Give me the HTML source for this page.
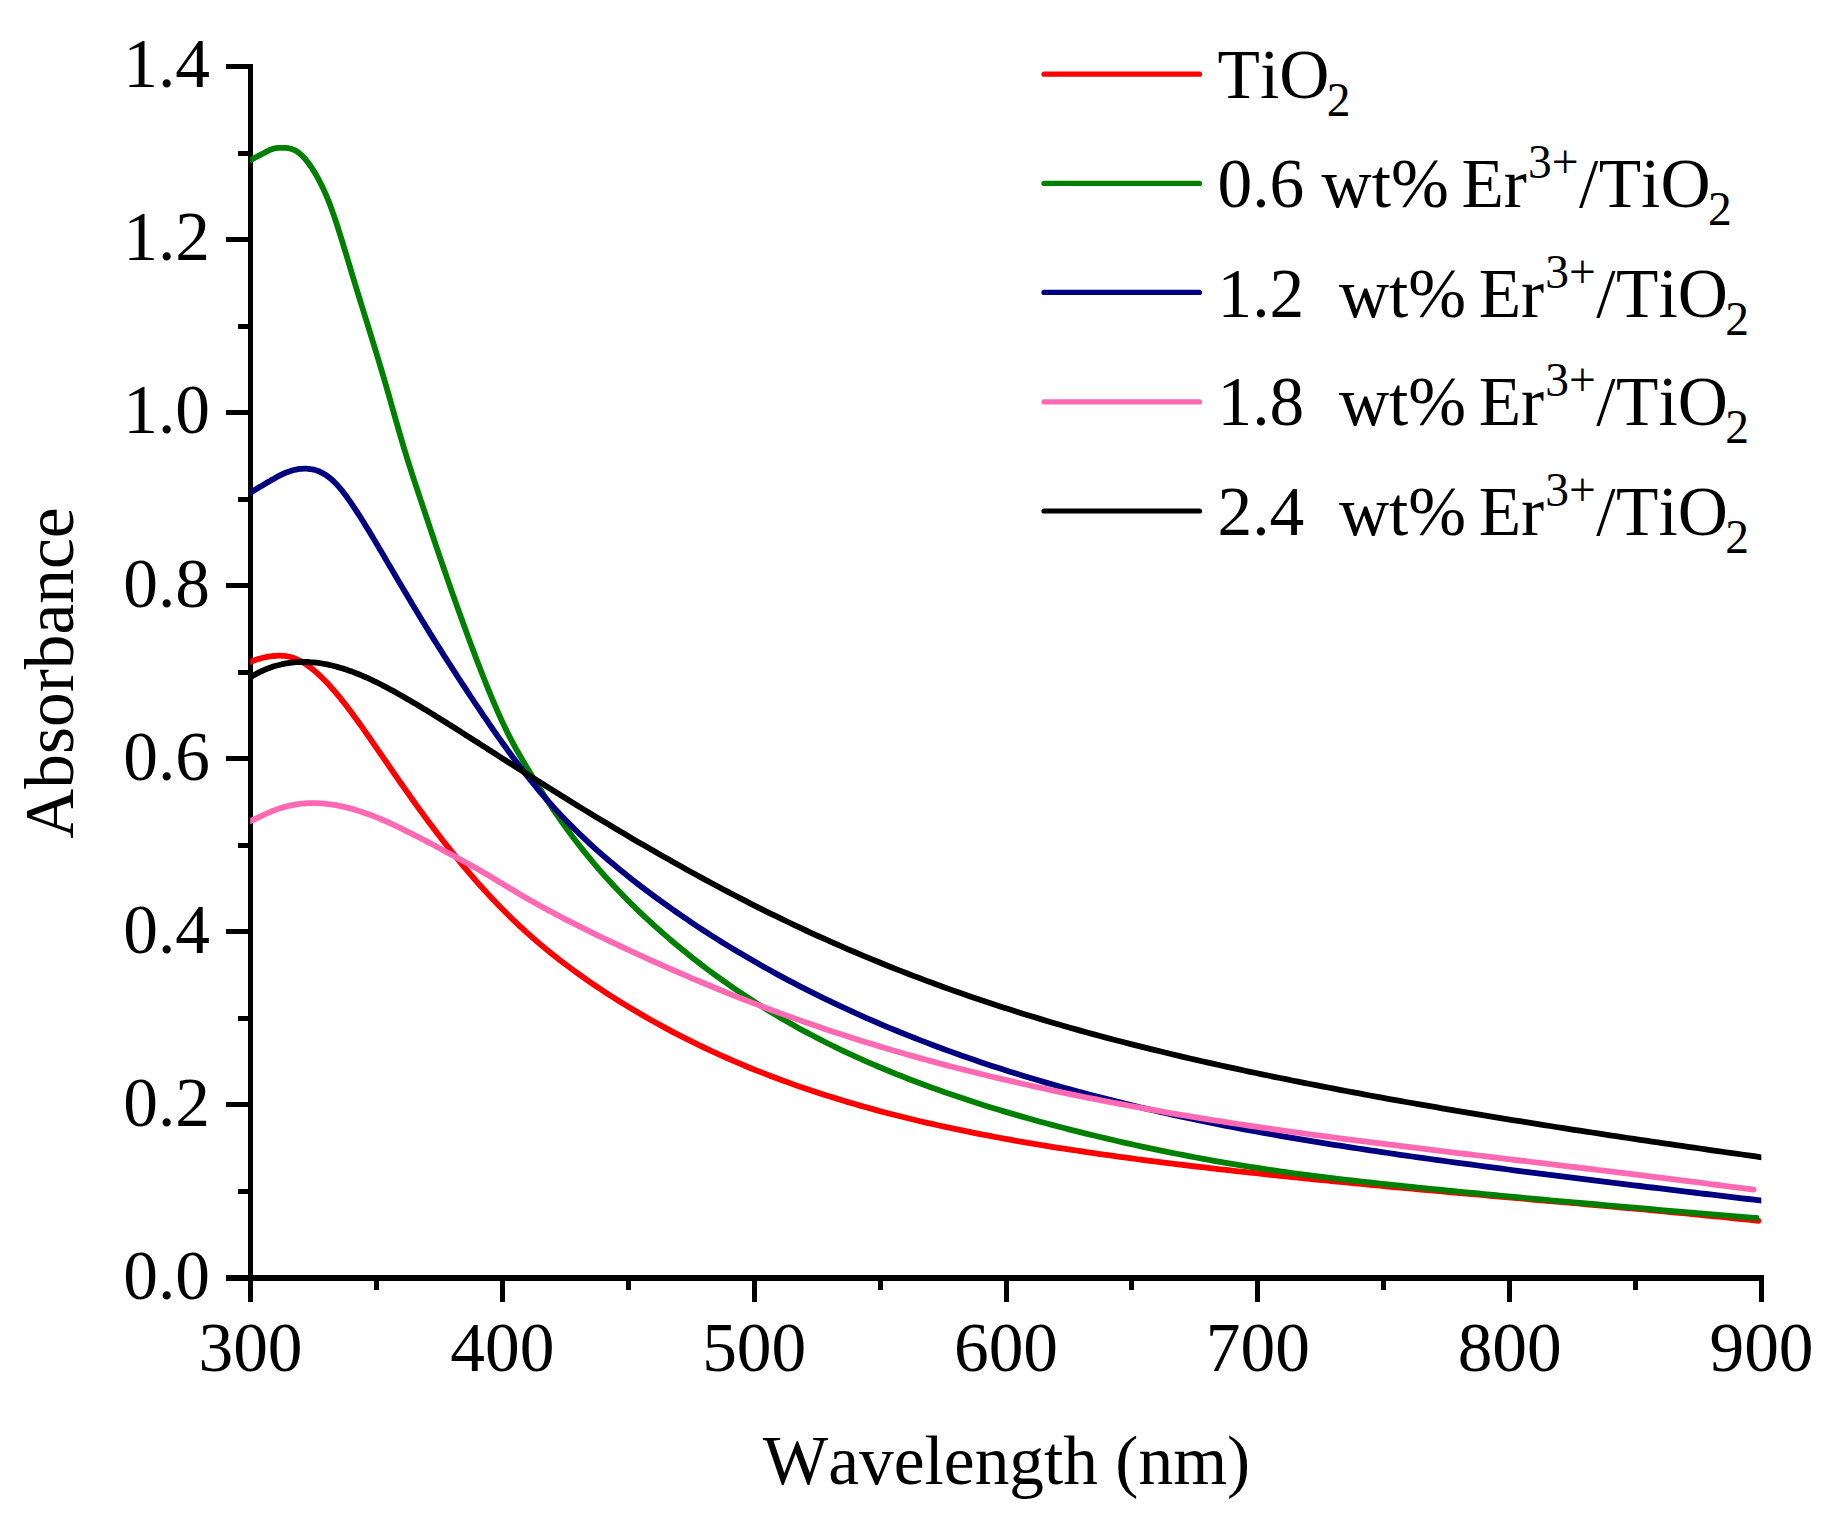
<!DOCTYPE html>
<html lang="en"><head><meta charset="utf-8"><title>Absorbance spectra</title>
<style>
html,body{margin:0;padding:0;background:#fff;}
body{width:1829px;height:1519px;overflow:hidden;}
svg{display:block;}
text{font-family:"Liberation Serif",serif;font-size:69.4px;fill:#000;font-kerning:none;}
.c{fill:none;stroke-width:5.8;stroke-linejoin:round;stroke-linecap:round;}
.ax{stroke:#000;stroke-width:5.0;fill:none;stroke-linecap:butt;shape-rendering:crispEdges;}
</style></head><body>
<svg width="1829" height="1519" viewBox="0 0 1829 1519">
<rect width="1829" height="1519" fill="#fff"/>
<line class="ax" style="stroke-width:6" x1="226.0" y1="1278.0" x2="1764.0" y2="1278.0"/>
<line class="ax" x1="250.5" y1="64.0" x2="250.5" y2="1301.8"/>
<text x="210.0" y="1298.8" text-anchor="end">0.0</text>
<line class="ax" x1="238.0" y1="1191.5" x2="250.5" y2="1191.5"/>
<line class="ax" x1="226.0" y1="1104.9" x2="250.5" y2="1104.9"/>
<text x="210.0" y="1125.7" text-anchor="end">0.2</text>
<line class="ax" x1="238.0" y1="1018.4" x2="250.5" y2="1018.4"/>
<line class="ax" x1="226.0" y1="931.9" x2="250.5" y2="931.9"/>
<text x="210.0" y="952.7" text-anchor="end">0.4</text>
<line class="ax" x1="238.0" y1="845.3" x2="250.5" y2="845.3"/>
<line class="ax" x1="226.0" y1="758.8" x2="250.5" y2="758.8"/>
<text x="210.0" y="779.6" text-anchor="end">0.6</text>
<line class="ax" x1="238.0" y1="672.2" x2="250.5" y2="672.2"/>
<line class="ax" x1="226.0" y1="585.7" x2="250.5" y2="585.7"/>
<text x="210.0" y="606.5" text-anchor="end">0.8</text>
<line class="ax" x1="238.0" y1="499.2" x2="250.5" y2="499.2"/>
<line class="ax" x1="226.0" y1="412.6" x2="250.5" y2="412.6"/>
<text x="210.0" y="433.4" text-anchor="end">1.0</text>
<line class="ax" x1="238.0" y1="326.1" x2="250.5" y2="326.1"/>
<line class="ax" x1="226.0" y1="239.6" x2="250.5" y2="239.6"/>
<text x="210.0" y="260.4" text-anchor="end">1.2</text>
<line class="ax" x1="238.0" y1="153.0" x2="250.5" y2="153.0"/>
<line class="ax" x1="226.0" y1="66.5" x2="250.5" y2="66.5"/>
<text x="210.0" y="87.3" text-anchor="end">1.4</text>
<text x="250.5" y="1371.4" text-anchor="middle">300</text>
<line class="ax" x1="376.4" y1="1278.0" x2="376.4" y2="1289.6"/>
<line class="ax" x1="502.3" y1="1278.0" x2="502.3" y2="1301.8"/>
<text x="502.3" y="1371.4" text-anchor="middle">400</text>
<line class="ax" x1="628.2" y1="1278.0" x2="628.2" y2="1289.6"/>
<line class="ax" x1="754.2" y1="1278.0" x2="754.2" y2="1301.8"/>
<text x="754.2" y="1371.4" text-anchor="middle">500</text>
<line class="ax" x1="880.1" y1="1278.0" x2="880.1" y2="1289.6"/>
<line class="ax" x1="1006.0" y1="1278.0" x2="1006.0" y2="1301.8"/>
<text x="1006.0" y="1371.4" text-anchor="middle">600</text>
<line class="ax" x1="1131.9" y1="1278.0" x2="1131.9" y2="1289.6"/>
<line class="ax" x1="1257.8" y1="1278.0" x2="1257.8" y2="1301.8"/>
<text x="1257.8" y="1371.4" text-anchor="middle">700</text>
<line class="ax" x1="1383.7" y1="1278.0" x2="1383.7" y2="1289.6"/>
<line class="ax" x1="1509.7" y1="1278.0" x2="1509.7" y2="1301.8"/>
<text x="1509.7" y="1371.4" text-anchor="middle">800</text>
<line class="ax" x1="1635.6" y1="1278.0" x2="1635.6" y2="1289.6"/>
<line class="ax" x1="1761.5" y1="1278.0" x2="1761.5" y2="1301.8"/>
<text x="1761.5" y="1371.4" text-anchor="middle">900</text>
<defs><clipPath id="pc"><rect x="250.2" y="0" width="1511.1" height="1519"/></clipPath></defs>
<path class="c" clip-path="url(#pc)" stroke="#ff0000" d="M246.0,663.7 L248.0,662.9 L250.0,662.0 L252.0,661.2 L254.0,660.5 L256.0,659.8 L258.0,659.1 L260.0,658.5 L262.0,658.0 L264.0,657.5 L266.0,657.1 L268.0,656.7 L270.0,656.4 L272.0,656.2 L274.0,656.0 L276.0,655.8 L278.0,655.7 L280.0,655.7 L282.0,655.8 L284.0,655.9 L286.0,656.2 L288.0,656.5 L290.0,656.9 L292.0,657.5 L294.0,658.1 L296.0,658.9 L298.0,659.8 L300.0,660.8 L302.0,661.9 L304.0,663.1 L306.0,664.4 L308.0,665.7 L310.0,667.2 L312.0,668.8 L314.0,670.4 L316.0,672.1 L318.0,673.9 L320.0,675.8 L322.0,677.7 L324.0,679.7 L326.0,681.7 L328.0,683.8 L330.0,686.0 L332.0,688.3 L334.0,690.5 L336.0,692.9 L338.0,695.3 L340.0,697.7 L342.0,700.2 L344.0,702.7 L346.0,705.3 L348.0,707.9 L350.0,710.6 L352.0,713.2 L354.0,716.0 L356.0,718.7 L358.0,721.5 L360.0,724.3 L362.0,727.1 L364.0,729.9 L366.0,732.8 L368.0,735.6 L370.0,738.5 L372.0,741.4 L374.0,744.3 L376.0,747.2 L378.0,750.1 L380.0,753.0 L382.0,755.9 L384.0,758.8 L386.0,761.7 L388.0,764.6 L390.0,767.5 L392.0,770.4 L394.0,773.3 L396.0,776.2 L398.0,779.1 L400.0,782.0 L402.0,784.8 L404.0,787.7 L406.0,790.5 L408.0,793.3 L410.0,796.2 L412.0,799.0 L414.0,801.8 L416.0,804.6 L418.0,807.3 L420.0,810.1 L422.0,812.8 L424.0,815.6 L426.0,818.3 L428.0,821.0 L430.0,823.7 L432.0,826.3 L434.0,829.0 L436.0,831.6 L438.0,834.2 L440.0,836.8 L442.0,839.4 L444.0,842.0 L446.0,844.6 L448.0,847.1 L450.0,849.6 L452.0,852.1 L454.0,854.6 L456.0,857.1 L458.0,859.5 L460.0,862.0 L462.0,864.4 L464.0,866.8 L466.0,869.2 L468.0,871.5 L470.0,873.9 L472.0,876.2 L474.0,878.5 L476.0,880.8 L478.0,883.1 L480.0,885.3 L482.0,887.5 L484.0,889.7 L486.0,891.9 L488.0,894.1 L490.0,896.3 L492.0,898.4 L494.0,900.5 L496.0,902.6 L498.0,904.7 L500.0,906.8 L502.0,908.8 L504.0,910.8 L506.0,912.8 L508.0,914.8 L510.0,916.8 L512.0,918.7 L514.0,920.7 L516.0,922.6 L518.0,924.5 L520.0,926.3 L522.0,928.2 L524.0,930.0 L526.0,931.8 L528.0,933.6 L530.0,935.4 L532.0,937.2 L534.0,938.9 L536.0,940.7 L538.0,942.4 L540.0,944.1 L542.0,945.7 L544.0,947.4 L546.0,949.1 L548.0,950.7 L550.0,952.3 L552.0,953.9 L554.0,955.5 L556.0,957.1 L558.0,958.7 L560.0,960.2 L566.0,964.8 L572.0,969.3 L578.0,973.6 L584.0,977.9 L590.0,982.1 L596.0,986.2 L602.0,990.2 L608.0,994.1 L614.0,997.9 L620.0,1001.7 L626.0,1005.4 L632.0,1009.0 L638.0,1012.6 L644.0,1016.1 L650.0,1019.5 L656.0,1022.8 L662.0,1026.1 L668.0,1029.4 L674.0,1032.6 L680.0,1035.7 L686.0,1038.7 L692.0,1041.7 L698.0,1044.7 L704.0,1047.5 L710.0,1050.4 L716.0,1053.1 L722.0,1055.9 L728.0,1058.5 L734.0,1061.1 L740.0,1063.7 L746.0,1066.2 L752.0,1068.7 L758.0,1071.1 L764.0,1073.4 L770.0,1075.7 L776.0,1078.0 L782.0,1080.2 L788.0,1082.4 L794.0,1084.6 L800.0,1086.7 L806.0,1088.7 L812.0,1090.7 L818.0,1092.7 L824.0,1094.7 L830.0,1096.6 L836.0,1098.4 L842.0,1100.3 L848.0,1102.1 L854.0,1103.8 L860.0,1105.6 L866.0,1107.3 L872.0,1108.9 L878.0,1110.6 L884.0,1112.2 L890.0,1113.7 L896.0,1115.3 L902.0,1116.8 L908.0,1118.3 L914.0,1119.7 L920.0,1121.2 L926.0,1122.6 L932.0,1123.9 L938.0,1125.3 L944.0,1126.6 L950.0,1127.9 L956.0,1129.2 L962.0,1130.4 L968.0,1131.7 L974.0,1132.9 L980.0,1134.1 L986.0,1135.2 L992.0,1136.4 L998.0,1137.5 L1004.0,1138.6 L1010.0,1139.7 L1016.0,1140.8 L1022.0,1141.8 L1028.0,1142.8 L1034.0,1143.8 L1040.0,1144.8 L1046.0,1145.8 L1052.0,1146.8 L1058.0,1147.8 L1064.0,1148.7 L1070.0,1149.6 L1076.0,1150.5 L1082.0,1151.4 L1088.0,1152.3 L1094.0,1153.2 L1100.0,1154.1 L1106.0,1154.9 L1112.0,1155.7 L1118.0,1156.6 L1124.0,1157.4 L1130.0,1158.2 L1136.0,1159.0 L1142.0,1159.8 L1148.0,1160.6 L1154.0,1161.3 L1160.0,1162.1 L1166.0,1162.8 L1172.0,1163.6 L1178.0,1164.3 L1184.0,1165.0 L1190.0,1165.8 L1196.0,1166.5 L1202.0,1167.2 L1208.0,1167.9 L1214.0,1168.6 L1220.0,1169.3 L1226.0,1169.9 L1232.0,1170.6 L1238.0,1171.3 L1244.0,1171.9 L1250.0,1172.6 L1256.0,1173.2 L1262.0,1173.9 L1268.0,1174.5 L1274.0,1175.2 L1280.0,1175.8 L1286.0,1176.4 L1292.0,1177.0 L1298.0,1177.7 L1304.0,1178.3 L1310.0,1178.9 L1316.0,1179.5 L1322.0,1180.1 L1328.0,1180.7 L1334.0,1181.3 L1340.0,1181.9 L1346.0,1182.4 L1352.0,1183.0 L1358.0,1183.6 L1364.0,1184.2 L1370.0,1184.8 L1376.0,1185.3 L1382.0,1185.9 L1388.0,1186.5 L1394.0,1187.0 L1400.0,1187.6 L1406.0,1188.1 L1412.0,1188.7 L1418.0,1189.3 L1424.0,1189.8 L1430.0,1190.4 L1436.0,1190.9 L1442.0,1191.4 L1448.0,1192.0 L1454.0,1192.5 L1460.0,1193.1 L1466.0,1193.6 L1472.0,1194.1 L1478.0,1194.7 L1484.0,1195.2 L1490.0,1195.8 L1496.0,1196.3 L1502.0,1196.8 L1508.0,1197.3 L1514.0,1197.9 L1520.0,1198.4 L1526.0,1198.9 L1532.0,1199.5 L1538.0,1200.0 L1544.0,1200.5 L1550.0,1201.1 L1556.0,1201.6 L1562.0,1202.1 L1568.0,1202.7 L1574.0,1203.2 L1580.0,1203.7 L1586.0,1204.3 L1592.0,1204.8 L1598.0,1205.3 L1604.0,1205.9 L1610.0,1206.4 L1616.0,1207.0 L1622.0,1207.5 L1628.0,1208.1 L1634.0,1208.6 L1640.0,1209.2 L1646.0,1209.7 L1652.0,1210.3 L1658.0,1210.9 L1664.0,1211.4 L1670.0,1212.0 L1676.0,1212.6 L1682.0,1213.1 L1688.0,1213.7 L1694.0,1214.3 L1700.0,1214.9 L1706.0,1215.5 L1712.0,1216.1 L1718.0,1216.6 L1724.0,1217.2 L1730.0,1217.8 L1736.0,1218.5 L1742.0,1219.1 L1748.0,1219.7 L1754.0,1220.3 L1758.5,1220.8"/>
<path class="c" clip-path="url(#pc)" stroke="#008000" d="M246.0,162.7 L248.0,161.6 L250.0,160.5 L252.0,159.4 L254.0,158.3 L256.0,157.2 L258.0,156.1 L260.0,155.1 L262.0,154.0 L264.0,153.0 L266.0,151.9 L268.0,150.9 L270.0,149.9 L272.0,149.1 L274.0,148.5 L276.0,148.1 L278.0,147.9 L280.0,147.8 L282.0,147.8 L284.0,147.8 L286.0,147.9 L288.0,148.2 L290.0,148.5 L292.0,149.1 L294.0,149.9 L296.0,150.9 L298.0,152.2 L300.0,153.8 L302.0,155.6 L304.0,157.7 L306.0,160.0 L308.0,162.5 L310.0,165.3 L312.0,168.2 L314.0,171.4 L316.0,174.7 L318.0,178.3 L320.0,182.1 L322.0,186.1 L324.0,190.3 L326.0,194.9 L328.0,199.7 L330.0,204.8 L332.0,210.2 L334.0,215.9 L336.0,221.8 L338.0,228.0 L340.0,234.3 L342.0,240.7 L344.0,247.3 L346.0,253.9 L348.0,260.5 L350.0,267.2 L352.0,273.9 L354.0,280.5 L356.0,287.1 L358.0,293.6 L360.0,300.1 L362.0,306.5 L364.0,313.0 L366.0,319.4 L368.0,325.9 L370.0,332.3 L372.0,338.8 L374.0,345.3 L376.0,351.9 L378.0,358.5 L380.0,365.1 L382.0,371.8 L384.0,378.6 L386.0,385.5 L388.0,392.4 L390.0,399.4 L392.0,406.5 L394.0,413.6 L396.0,420.6 L398.0,427.6 L400.0,434.6 L402.0,441.4 L404.0,448.1 L406.0,454.7 L408.0,461.1 L410.0,467.4 L412.0,473.6 L414.0,479.8 L416.0,485.8 L418.0,491.9 L420.0,497.9 L422.0,503.9 L424.0,509.9 L426.0,515.9 L428.0,521.8 L430.0,527.8 L432.0,533.7 L434.0,539.7 L436.0,545.6 L438.0,551.5 L440.0,557.4 L442.0,563.2 L444.0,569.0 L446.0,574.8 L448.0,580.6 L450.0,586.4 L452.0,592.1 L454.0,597.7 L456.0,603.4 L458.0,609.0 L460.0,614.6 L462.0,620.1 L464.0,625.6 L466.0,631.1 L468.0,636.6 L470.0,641.9 L472.0,647.3 L474.0,652.6 L476.0,657.9 L478.0,663.1 L480.0,668.3 L482.0,673.5 L484.0,678.5 L486.0,683.6 L488.0,688.6 L490.0,693.4 L492.0,698.3 L494.0,703.0 L496.0,707.7 L498.0,712.3 L500.0,716.7 L502.0,721.1 L504.0,725.4 L506.0,729.6 L508.0,733.6 L510.0,737.6 L512.0,741.4 L514.0,745.2 L516.0,748.8 L518.0,752.3 L520.0,755.8 L522.0,759.2 L524.0,762.6 L526.0,766.0 L528.0,769.3 L530.0,772.6 L532.0,775.9 L534.0,779.2 L536.0,782.4 L538.0,785.7 L540.0,788.9 L542.0,792.1 L544.0,795.2 L546.0,798.4 L548.0,801.5 L550.0,804.5 L552.0,807.6 L554.0,810.6 L556.0,813.5 L558.0,816.4 L560.0,819.3 L566.0,827.7 L572.0,835.9 L578.0,843.7 L584.0,851.4 L590.0,858.7 L596.0,865.8 L602.0,872.8 L608.0,879.5 L614.0,886.0 L620.0,892.3 L626.0,898.5 L632.0,904.5 L638.0,910.4 L644.0,916.1 L650.0,921.6 L656.0,927.1 L662.0,932.4 L668.0,937.6 L674.0,942.7 L680.0,947.7 L686.0,952.6 L692.0,957.4 L698.0,962.1 L704.0,966.7 L710.0,971.2 L716.0,975.6 L722.0,979.9 L728.0,984.2 L734.0,988.3 L740.0,992.4 L746.0,996.4 L752.0,1000.3 L758.0,1004.1 L764.0,1007.9 L770.0,1011.5 L776.0,1015.1 L782.0,1018.7 L788.0,1022.1 L794.0,1025.5 L800.0,1028.9 L806.0,1032.1 L812.0,1035.3 L818.0,1038.4 L824.0,1041.5 L830.0,1044.5 L836.0,1047.4 L842.0,1050.3 L848.0,1053.2 L854.0,1055.9 L860.0,1058.7 L866.0,1061.3 L872.0,1063.9 L878.0,1066.5 L884.0,1069.0 L890.0,1071.5 L896.0,1074.0 L902.0,1076.3 L908.0,1078.7 L914.0,1081.0 L920.0,1083.3 L926.0,1085.5 L932.0,1087.7 L938.0,1089.8 L944.0,1092.0 L950.0,1094.0 L956.0,1096.1 L962.0,1098.1 L968.0,1100.1 L974.0,1102.0 L980.0,1104.0 L986.0,1105.9 L992.0,1107.7 L998.0,1109.6 L1004.0,1111.4 L1010.0,1113.1 L1016.0,1114.9 L1022.0,1116.6 L1028.0,1118.3 L1034.0,1120.0 L1040.0,1121.7 L1046.0,1123.3 L1052.0,1124.9 L1058.0,1126.5 L1064.0,1128.0 L1070.0,1129.6 L1076.0,1131.1 L1082.0,1132.6 L1088.0,1134.1 L1094.0,1135.5 L1100.0,1137.0 L1106.0,1138.4 L1112.0,1139.8 L1118.0,1141.2 L1124.0,1142.6 L1130.0,1143.9 L1136.0,1145.3 L1142.0,1146.6 L1148.0,1147.9 L1154.0,1149.1 L1160.0,1150.4 L1166.0,1151.6 L1172.0,1152.8 L1178.0,1154.0 L1184.0,1155.2 L1190.0,1156.4 L1196.0,1157.5 L1202.0,1158.6 L1208.0,1159.7 L1214.0,1160.8 L1220.0,1161.8 L1226.0,1162.9 L1232.0,1163.9 L1238.0,1164.9 L1244.0,1165.9 L1250.0,1166.8 L1256.0,1167.7 L1262.0,1168.7 L1268.0,1169.6 L1274.0,1170.4 L1280.0,1171.3 L1286.0,1172.1 L1292.0,1173.0 L1298.0,1173.8 L1304.0,1174.6 L1310.0,1175.3 L1316.0,1176.1 L1322.0,1176.9 L1328.0,1177.6 L1334.0,1178.3 L1340.0,1179.1 L1346.0,1179.8 L1352.0,1180.5 L1358.0,1181.1 L1364.0,1181.8 L1370.0,1182.5 L1376.0,1183.2 L1382.0,1183.8 L1388.0,1184.5 L1394.0,1185.1 L1400.0,1185.7 L1406.0,1186.4 L1412.0,1187.0 L1418.0,1187.6 L1424.0,1188.2 L1430.0,1188.8 L1436.0,1189.4 L1442.0,1190.0 L1448.0,1190.6 L1454.0,1191.2 L1460.0,1191.8 L1466.0,1192.4 L1472.0,1192.9 L1478.0,1193.5 L1484.0,1194.1 L1490.0,1194.7 L1496.0,1195.2 L1502.0,1195.8 L1508.0,1196.4 L1514.0,1196.9 L1520.0,1197.5 L1526.0,1198.1 L1532.0,1198.6 L1538.0,1199.2 L1544.0,1199.7 L1550.0,1200.3 L1556.0,1200.8 L1562.0,1201.3 L1568.0,1201.9 L1574.0,1202.4 L1580.0,1203.0 L1586.0,1203.5 L1592.0,1204.0 L1598.0,1204.5 L1604.0,1205.1 L1610.0,1205.6 L1616.0,1206.1 L1622.0,1206.6 L1628.0,1207.2 L1634.0,1207.7 L1640.0,1208.2 L1646.0,1208.7 L1652.0,1209.2 L1658.0,1209.8 L1664.0,1210.3 L1670.0,1210.8 L1676.0,1211.3 L1682.0,1211.8 L1688.0,1212.3 L1694.0,1212.8 L1700.0,1213.3 L1706.0,1213.8 L1712.0,1214.3 L1718.0,1214.8 L1724.0,1215.3 L1730.0,1215.8 L1736.0,1216.3 L1742.0,1216.8 L1748.0,1217.3 L1754.0,1217.8 L1756.5,1218.0"/>
<path class="c" clip-path="url(#pc)" stroke="#000080" d="M246.0,495.5 L248.0,494.2 L250.0,492.9 L252.0,491.7 L254.0,490.4 L256.0,489.2 L258.0,488.0 L260.0,486.8 L262.0,485.7 L264.0,484.5 L266.0,483.3 L268.0,482.1 L270.0,481.0 L272.0,479.8 L274.0,478.7 L276.0,477.5 L278.0,476.4 L280.0,475.4 L282.0,474.4 L284.0,473.5 L286.0,472.6 L288.0,471.9 L290.0,471.2 L292.0,470.5 L294.0,470.0 L296.0,469.6 L298.0,469.2 L300.0,468.9 L302.0,468.8 L304.0,468.7 L306.0,468.7 L308.0,468.8 L310.0,469.0 L312.0,469.3 L314.0,469.7 L316.0,470.3 L318.0,471.0 L320.0,471.8 L322.0,472.8 L324.0,473.9 L326.0,475.1 L328.0,476.6 L330.0,478.1 L332.0,479.8 L334.0,481.7 L336.0,483.7 L338.0,485.9 L340.0,488.2 L342.0,490.6 L344.0,493.2 L346.0,495.8 L348.0,498.6 L350.0,501.4 L352.0,504.3 L354.0,507.3 L356.0,510.3 L358.0,513.4 L360.0,516.5 L362.0,519.7 L364.0,522.9 L366.0,526.2 L368.0,529.4 L370.0,532.7 L372.0,536.0 L374.0,539.4 L376.0,542.7 L378.0,546.1 L380.0,549.5 L382.0,552.9 L384.0,556.3 L386.0,559.7 L388.0,563.1 L390.0,566.5 L392.0,569.9 L394.0,573.3 L396.0,576.7 L398.0,580.1 L400.0,583.5 L402.0,586.9 L404.0,590.3 L406.0,593.6 L408.0,597.0 L410.0,600.3 L412.0,603.7 L414.0,607.0 L416.0,610.3 L418.0,613.6 L420.0,616.9 L422.0,620.2 L424.0,623.4 L426.0,626.7 L428.0,629.9 L430.0,633.2 L432.0,636.4 L434.0,639.6 L436.0,642.8 L438.0,646.0 L440.0,649.1 L442.0,652.3 L444.0,655.5 L446.0,658.6 L448.0,661.7 L450.0,664.8 L452.0,667.9 L454.0,671.0 L456.0,674.1 L458.0,677.2 L460.0,680.3 L462.0,683.3 L464.0,686.4 L466.0,689.4 L468.0,692.4 L470.0,695.5 L472.0,698.5 L474.0,701.5 L476.0,704.5 L478.0,707.4 L480.0,710.4 L482.0,713.4 L484.0,716.3 L486.0,719.2 L488.0,722.2 L490.0,725.1 L492.0,728.0 L494.0,730.9 L496.0,733.7 L498.0,736.6 L500.0,739.4 L502.0,742.2 L504.0,745.0 L506.0,747.8 L508.0,750.6 L510.0,753.3 L512.0,756.1 L514.0,758.8 L516.0,761.4 L518.0,764.1 L520.0,766.7 L522.0,769.3 L524.0,771.9 L526.0,774.5 L528.0,777.0 L530.0,779.6 L532.0,782.0 L534.0,784.5 L536.0,787.0 L538.0,789.4 L540.0,791.8 L542.0,794.1 L544.0,796.5 L546.0,798.8 L548.0,801.1 L550.0,803.3 L552.0,805.5 L554.0,807.8 L556.0,809.9 L558.0,812.1 L560.0,814.2 L566.0,820.5 L572.0,826.6 L578.0,832.5 L584.0,838.2 L590.0,843.8 L596.0,849.3 L602.0,854.6 L608.0,859.8 L614.0,864.8 L620.0,869.8 L626.0,874.6 L632.0,879.4 L638.0,884.1 L644.0,888.6 L650.0,893.1 L656.0,897.6 L662.0,901.9 L668.0,906.2 L674.0,910.5 L680.0,914.6 L686.0,918.7 L692.0,922.8 L698.0,926.8 L704.0,930.7 L710.0,934.6 L716.0,938.4 L722.0,942.2 L728.0,945.9 L734.0,949.5 L740.0,953.1 L746.0,956.6 L752.0,960.1 L758.0,963.6 L764.0,967.0 L770.0,970.3 L776.0,973.6 L782.0,976.9 L788.0,980.1 L794.0,983.2 L800.0,986.3 L806.0,989.4 L812.0,992.4 L818.0,995.4 L824.0,998.3 L830.0,1001.2 L836.0,1004.1 L842.0,1006.9 L848.0,1009.7 L854.0,1012.4 L860.0,1015.1 L866.0,1017.8 L872.0,1020.4 L878.0,1023.0 L884.0,1025.6 L890.0,1028.1 L896.0,1030.5 L902.0,1033.0 L908.0,1035.4 L914.0,1037.8 L920.0,1040.1 L926.0,1042.4 L932.0,1044.7 L938.0,1047.0 L944.0,1049.2 L950.0,1051.4 L956.0,1053.5 L962.0,1055.7 L968.0,1057.8 L974.0,1059.8 L980.0,1061.9 L986.0,1063.9 L992.0,1065.9 L998.0,1067.8 L1004.0,1069.8 L1010.0,1071.7 L1016.0,1073.5 L1022.0,1075.4 L1028.0,1077.2 L1034.0,1079.0 L1040.0,1080.8 L1046.0,1082.6 L1052.0,1084.3 L1058.0,1086.0 L1064.0,1087.7 L1070.0,1089.4 L1076.0,1091.0 L1082.0,1092.6 L1088.0,1094.2 L1094.0,1095.8 L1100.0,1097.4 L1106.0,1098.9 L1112.0,1100.4 L1118.0,1101.9 L1124.0,1103.4 L1130.0,1104.9 L1136.0,1106.3 L1142.0,1107.7 L1148.0,1109.1 L1154.0,1110.5 L1160.0,1111.9 L1166.0,1113.2 L1172.0,1114.6 L1178.0,1115.9 L1184.0,1117.2 L1190.0,1118.4 L1196.0,1119.7 L1202.0,1121.0 L1208.0,1122.2 L1214.0,1123.4 L1220.0,1124.6 L1226.0,1125.8 L1232.0,1127.0 L1238.0,1128.1 L1244.0,1129.3 L1250.0,1130.4 L1256.0,1131.5 L1262.0,1132.6 L1268.0,1133.7 L1274.0,1134.7 L1280.0,1135.8 L1286.0,1136.8 L1292.0,1137.9 L1298.0,1138.9 L1304.0,1139.9 L1310.0,1140.9 L1316.0,1141.9 L1322.0,1142.9 L1328.0,1143.8 L1334.0,1144.8 L1340.0,1145.7 L1346.0,1146.7 L1352.0,1147.6 L1358.0,1148.5 L1364.0,1149.4 L1370.0,1150.3 L1376.0,1151.2 L1382.0,1152.1 L1388.0,1153.0 L1394.0,1153.9 L1400.0,1154.8 L1406.0,1155.6 L1412.0,1156.5 L1418.0,1157.3 L1424.0,1158.2 L1430.0,1159.0 L1436.0,1159.8 L1442.0,1160.7 L1448.0,1161.5 L1454.0,1162.3 L1460.0,1163.1 L1466.0,1163.9 L1472.0,1164.7 L1478.0,1165.5 L1484.0,1166.3 L1490.0,1167.1 L1496.0,1167.9 L1502.0,1168.7 L1508.0,1169.5 L1514.0,1170.3 L1520.0,1171.1 L1526.0,1171.8 L1532.0,1172.6 L1538.0,1173.4 L1544.0,1174.1 L1550.0,1174.9 L1556.0,1175.6 L1562.0,1176.4 L1568.0,1177.2 L1574.0,1177.9 L1580.0,1178.7 L1586.0,1179.4 L1592.0,1180.1 L1598.0,1180.9 L1604.0,1181.6 L1610.0,1182.4 L1616.0,1183.1 L1622.0,1183.8 L1628.0,1184.6 L1634.0,1185.3 L1640.0,1186.0 L1646.0,1186.8 L1652.0,1187.5 L1658.0,1188.2 L1664.0,1188.9 L1670.0,1189.7 L1676.0,1190.4 L1682.0,1191.1 L1688.0,1191.8 L1694.0,1192.5 L1700.0,1193.3 L1706.0,1194.0 L1712.0,1194.7 L1718.0,1195.4 L1724.0,1196.1 L1730.0,1196.8 L1736.0,1197.6 L1742.0,1198.3 L1748.0,1199.0 L1754.0,1199.7 L1760.0,1200.4 L1764.0,1200.9" style="stroke-linecap:butt"/>
<path class="c" clip-path="url(#pc)" stroke="#ff69b4" d="M246.0,822.8 L248.0,822.1 L250.0,821.3 L252.0,820.4 L254.0,819.5 L256.0,818.5 L258.0,817.6 L260.0,816.6 L262.0,815.6 L264.0,814.7 L266.0,813.8 L268.0,812.9 L270.0,812.1 L272.0,811.2 L274.0,810.4 L276.0,809.7 L278.0,809.0 L280.0,808.3 L282.0,807.7 L284.0,807.1 L286.0,806.5 L288.0,806.0 L290.0,805.6 L292.0,805.1 L294.0,804.8 L296.0,804.4 L298.0,804.1 L300.0,803.9 L302.0,803.6 L304.0,803.5 L306.0,803.3 L308.0,803.2 L310.0,803.1 L312.0,803.1 L314.0,803.1 L316.0,803.1 L318.0,803.2 L320.0,803.3 L322.0,803.4 L324.0,803.6 L326.0,803.8 L328.0,804.0 L330.0,804.3 L332.0,804.6 L334.0,804.9 L336.0,805.2 L338.0,805.6 L340.0,806.0 L342.0,806.4 L344.0,806.9 L346.0,807.4 L348.0,807.9 L350.0,808.4 L352.0,808.9 L354.0,809.5 L356.0,810.1 L358.0,810.7 L360.0,811.3 L362.0,812.0 L364.0,812.7 L366.0,813.4 L368.0,814.1 L370.0,814.8 L372.0,815.6 L374.0,816.3 L376.0,817.1 L378.0,817.9 L380.0,818.8 L382.0,819.6 L384.0,820.5 L386.0,821.3 L388.0,822.2 L390.0,823.1 L392.0,824.0 L394.0,825.0 L396.0,825.9 L398.0,826.9 L400.0,827.8 L402.0,828.8 L404.0,829.8 L406.0,830.8 L408.0,831.8 L410.0,832.8 L412.0,833.8 L414.0,834.8 L416.0,835.8 L418.0,836.9 L420.0,837.9 L422.0,839.0 L424.0,840.0 L426.0,841.1 L428.0,842.1 L430.0,843.2 L432.0,844.2 L434.0,845.3 L436.0,846.4 L438.0,847.5 L440.0,848.5 L442.0,849.6 L444.0,850.7 L446.0,851.8 L448.0,852.8 L450.0,853.9 L452.0,855.0 L454.0,856.1 L456.0,857.2 L458.0,858.3 L460.0,859.3 L462.0,860.4 L464.0,861.5 L466.0,862.6 L468.0,863.7 L470.0,864.8 L472.0,865.9 L474.0,867.0 L476.0,868.1 L478.0,869.3 L480.0,870.4 L482.0,871.6 L484.0,872.7 L486.0,873.9 L488.0,875.1 L490.0,876.3 L492.0,877.5 L494.0,878.7 L496.0,879.9 L498.0,881.2 L500.0,882.4 L502.0,883.6 L504.0,884.8 L506.0,886.0 L508.0,887.2 L510.0,888.4 L512.0,889.6 L514.0,890.8 L516.0,892.0 L518.0,893.2 L520.0,894.4 L522.0,895.6 L524.0,896.7 L526.0,897.9 L528.0,899.0 L530.0,900.2 L532.0,901.3 L534.0,902.4 L536.0,903.5 L538.0,904.6 L540.0,905.7 L542.0,906.8 L544.0,907.9 L546.0,909.0 L548.0,910.1 L550.0,911.2 L552.0,912.2 L554.0,913.3 L556.0,914.4 L558.0,915.4 L560.0,916.5 L566.0,919.6 L572.0,922.6 L578.0,925.7 L584.0,928.7 L590.0,931.6 L596.0,934.6 L602.0,937.5 L608.0,940.3 L614.0,943.2 L620.0,946.0 L626.0,948.8 L632.0,951.6 L638.0,954.3 L644.0,957.1 L650.0,959.8 L656.0,962.5 L662.0,965.2 L668.0,967.8 L674.0,970.5 L680.0,973.1 L686.0,975.7 L692.0,978.3 L698.0,980.8 L704.0,983.3 L710.0,985.8 L716.0,988.3 L722.0,990.8 L728.0,993.2 L734.0,995.6 L740.0,998.0 L746.0,1000.3 L752.0,1002.6 L758.0,1004.9 L764.0,1007.2 L770.0,1009.5 L776.0,1011.7 L782.0,1013.9 L788.0,1016.1 L794.0,1018.2 L800.0,1020.4 L806.0,1022.5 L812.0,1024.6 L818.0,1026.6 L824.0,1028.7 L830.0,1030.7 L836.0,1032.7 L842.0,1034.6 L848.0,1036.6 L854.0,1038.5 L860.0,1040.4 L866.0,1042.2 L872.0,1044.1 L878.0,1045.9 L884.0,1047.7 L890.0,1049.5 L896.0,1051.3 L902.0,1053.0 L908.0,1054.7 L914.0,1056.4 L920.0,1058.1 L926.0,1059.7 L932.0,1061.4 L938.0,1063.0 L944.0,1064.6 L950.0,1066.2 L956.0,1067.7 L962.0,1069.3 L968.0,1070.8 L974.0,1072.3 L980.0,1073.8 L986.0,1075.2 L992.0,1076.7 L998.0,1078.1 L1004.0,1079.5 L1010.0,1080.9 L1016.0,1082.3 L1022.0,1083.7 L1028.0,1085.0 L1034.0,1086.4 L1040.0,1087.7 L1046.0,1089.0 L1052.0,1090.3 L1058.0,1091.6 L1064.0,1092.8 L1070.0,1094.1 L1076.0,1095.3 L1082.0,1096.5 L1088.0,1097.8 L1094.0,1098.9 L1100.0,1100.1 L1106.0,1101.3 L1112.0,1102.5 L1118.0,1103.6 L1124.0,1104.7 L1130.0,1105.8 L1136.0,1106.9 L1142.0,1108.0 L1148.0,1109.1 L1154.0,1110.2 L1160.0,1111.2 L1166.0,1112.3 L1172.0,1113.3 L1178.0,1114.3 L1184.0,1115.4 L1190.0,1116.4 L1196.0,1117.4 L1202.0,1118.3 L1208.0,1119.3 L1214.0,1120.3 L1220.0,1121.2 L1226.0,1122.1 L1232.0,1123.1 L1238.0,1124.0 L1244.0,1124.9 L1250.0,1125.8 L1256.0,1126.7 L1262.0,1127.6 L1268.0,1128.4 L1274.0,1129.3 L1280.0,1130.2 L1286.0,1131.0 L1292.0,1131.8 L1298.0,1132.7 L1304.0,1133.5 L1310.0,1134.3 L1316.0,1135.1 L1322.0,1135.9 L1328.0,1136.7 L1334.0,1137.5 L1340.0,1138.3 L1346.0,1139.1 L1352.0,1139.9 L1358.0,1140.6 L1364.0,1141.4 L1370.0,1142.2 L1376.0,1142.9 L1382.0,1143.7 L1388.0,1144.4 L1394.0,1145.2 L1400.0,1145.9 L1406.0,1146.7 L1412.0,1147.4 L1418.0,1148.2 L1424.0,1148.9 L1430.0,1149.6 L1436.0,1150.4 L1442.0,1151.1 L1448.0,1151.8 L1454.0,1152.6 L1460.0,1153.3 L1466.0,1154.0 L1472.0,1154.7 L1478.0,1155.5 L1484.0,1156.2 L1490.0,1156.9 L1496.0,1157.6 L1502.0,1158.3 L1508.0,1159.1 L1514.0,1159.8 L1520.0,1160.5 L1526.0,1161.2 L1532.0,1162.0 L1538.0,1162.7 L1544.0,1163.4 L1550.0,1164.1 L1556.0,1164.9 L1562.0,1165.6 L1568.0,1166.3 L1574.0,1167.0 L1580.0,1167.8 L1586.0,1168.5 L1592.0,1169.2 L1598.0,1170.0 L1604.0,1170.7 L1610.0,1171.4 L1616.0,1172.2 L1622.0,1172.9 L1628.0,1173.7 L1634.0,1174.4 L1640.0,1175.1 L1646.0,1175.9 L1652.0,1176.6 L1658.0,1177.4 L1664.0,1178.1 L1670.0,1178.9 L1676.0,1179.7 L1682.0,1180.4 L1688.0,1181.2 L1694.0,1181.9 L1700.0,1182.7 L1706.0,1183.5 L1712.0,1184.3 L1718.0,1185.0 L1724.0,1185.8 L1730.0,1186.6 L1736.0,1187.4 L1742.0,1188.2 L1748.0,1188.9 L1753.6,1189.7"/>
<path class="c" clip-path="url(#pc)" stroke="#000000" d="M246.0,680.0 L248.0,678.7 L250.0,677.5 L252.0,676.3 L254.0,675.1 L256.0,674.0 L258.0,672.9 L260.0,671.9 L262.0,671.0 L264.0,670.1 L266.0,669.2 L268.0,668.4 L270.0,667.7 L272.0,667.0 L274.0,666.3 L276.0,665.7 L278.0,665.2 L280.0,664.7 L282.0,664.2 L284.0,663.8 L286.0,663.4 L288.0,663.1 L290.0,662.8 L292.0,662.6 L294.0,662.4 L296.0,662.2 L298.0,662.1 L300.0,662.0 L302.0,662.0 L304.0,661.9 L306.0,662.0 L308.0,662.0 L310.0,662.2 L312.0,662.3 L314.0,662.5 L316.0,662.7 L318.0,662.9 L320.0,663.2 L322.0,663.5 L324.0,663.9 L326.0,664.2 L328.0,664.6 L330.0,665.1 L332.0,665.5 L334.0,666.0 L336.0,666.5 L338.0,667.1 L340.0,667.7 L342.0,668.3 L344.0,668.9 L346.0,669.5 L348.0,670.2 L350.0,670.9 L352.0,671.6 L354.0,672.4 L356.0,673.2 L358.0,674.0 L360.0,674.8 L362.0,675.6 L364.0,676.5 L366.0,677.3 L368.0,678.2 L370.0,679.2 L372.0,680.1 L374.0,681.1 L376.0,682.0 L378.0,683.0 L380.0,684.0 L382.0,685.0 L384.0,686.1 L386.0,687.1 L388.0,688.2 L390.0,689.3 L392.0,690.3 L394.0,691.4 L396.0,692.5 L398.0,693.7 L400.0,694.8 L402.0,695.9 L404.0,697.1 L406.0,698.2 L408.0,699.4 L410.0,700.5 L412.0,701.7 L414.0,702.9 L416.0,704.1 L418.0,705.3 L420.0,706.5 L422.0,707.7 L424.0,708.9 L426.0,710.1 L428.0,711.3 L430.0,712.6 L432.0,713.8 L434.0,715.0 L436.0,716.3 L438.0,717.5 L440.0,718.7 L442.0,720.0 L444.0,721.2 L446.0,722.5 L448.0,723.8 L450.0,725.0 L452.0,726.3 L454.0,727.5 L456.0,728.8 L458.0,730.1 L460.0,731.3 L462.0,732.6 L464.0,733.9 L466.0,735.2 L468.0,736.4 L470.0,737.7 L472.0,739.0 L474.0,740.3 L476.0,741.5 L478.0,742.8 L480.0,744.1 L482.0,745.4 L484.0,746.6 L486.0,747.9 L488.0,749.2 L490.0,750.5 L492.0,751.8 L494.0,753.0 L496.0,754.3 L498.0,755.6 L500.0,756.9 L502.0,758.2 L504.0,759.4 L506.0,760.7 L508.0,762.0 L510.0,763.3 L512.0,764.5 L514.0,765.8 L516.0,767.1 L518.0,768.4 L520.0,769.6 L522.0,770.9 L524.0,772.2 L526.0,773.4 L528.0,774.7 L530.0,776.0 L532.0,777.2 L534.0,778.5 L536.0,779.8 L538.0,781.0 L540.0,782.3 L542.0,783.6 L544.0,784.8 L546.0,786.1 L548.0,787.3 L550.0,788.6 L552.0,789.8 L554.0,791.1 L556.0,792.3 L558.0,793.6 L560.0,794.8 L566.0,798.5 L572.0,802.3 L578.0,805.9 L584.0,809.6 L590.0,813.3 L596.0,816.9 L602.0,820.5 L608.0,824.1 L614.0,827.7 L620.0,831.3 L626.0,834.8 L632.0,838.4 L638.0,841.9 L644.0,845.3 L650.0,848.8 L656.0,852.3 L662.0,855.7 L668.0,859.1 L674.0,862.5 L680.0,865.8 L686.0,869.2 L692.0,872.5 L698.0,875.8 L704.0,879.1 L710.0,882.3 L716.0,885.5 L722.0,888.7 L728.0,891.9 L734.0,895.0 L740.0,898.1 L746.0,901.2 L752.0,904.3 L758.0,907.3 L764.0,910.3 L770.0,913.3 L776.0,916.2 L782.0,919.1 L788.0,922.0 L794.0,924.9 L800.0,927.7 L806.0,930.5 L812.0,933.3 L818.0,936.0 L824.0,938.7 L830.0,941.4 L836.0,944.0 L842.0,946.7 L848.0,949.3 L854.0,951.8 L860.0,954.4 L866.0,956.9 L872.0,959.4 L878.0,961.8 L884.0,964.3 L890.0,966.7 L896.0,969.1 L902.0,971.4 L908.0,973.8 L914.0,976.1 L920.0,978.3 L926.0,980.6 L932.0,982.8 L938.0,985.0 L944.0,987.2 L950.0,989.4 L956.0,991.5 L962.0,993.6 L968.0,995.7 L974.0,997.7 L980.0,999.8 L986.0,1001.8 L992.0,1003.8 L998.0,1005.7 L1004.0,1007.7 L1010.0,1009.6 L1016.0,1011.5 L1022.0,1013.4 L1028.0,1015.2 L1034.0,1017.1 L1040.0,1018.9 L1046.0,1020.7 L1052.0,1022.5 L1058.0,1024.2 L1064.0,1026.0 L1070.0,1027.7 L1076.0,1029.4 L1082.0,1031.1 L1088.0,1032.7 L1094.0,1034.4 L1100.0,1036.0 L1106.0,1037.6 L1112.0,1039.2 L1118.0,1040.8 L1124.0,1042.3 L1130.0,1043.9 L1136.0,1045.4 L1142.0,1046.9 L1148.0,1048.4 L1154.0,1049.9 L1160.0,1051.3 L1166.0,1052.8 L1172.0,1054.2 L1178.0,1055.6 L1184.0,1057.1 L1190.0,1058.5 L1196.0,1059.8 L1202.0,1061.2 L1208.0,1062.6 L1214.0,1063.9 L1220.0,1065.3 L1226.0,1066.6 L1232.0,1067.9 L1238.0,1069.2 L1244.0,1070.5 L1250.0,1071.8 L1256.0,1073.0 L1262.0,1074.3 L1268.0,1075.5 L1274.0,1076.8 L1280.0,1078.0 L1286.0,1079.2 L1292.0,1080.5 L1298.0,1081.7 L1304.0,1082.9 L1310.0,1084.0 L1316.0,1085.2 L1322.0,1086.4 L1328.0,1087.5 L1334.0,1088.7 L1340.0,1089.8 L1346.0,1091.0 L1352.0,1092.1 L1358.0,1093.2 L1364.0,1094.4 L1370.0,1095.5 L1376.0,1096.6 L1382.0,1097.7 L1388.0,1098.8 L1394.0,1099.8 L1400.0,1100.9 L1406.0,1102.0 L1412.0,1103.0 L1418.0,1104.1 L1424.0,1105.1 L1430.0,1106.2 L1436.0,1107.2 L1442.0,1108.3 L1448.0,1109.3 L1454.0,1110.3 L1460.0,1111.3 L1466.0,1112.3 L1472.0,1113.4 L1478.0,1114.4 L1484.0,1115.4 L1490.0,1116.3 L1496.0,1117.3 L1502.0,1118.3 L1508.0,1119.3 L1514.0,1120.3 L1520.0,1121.2 L1526.0,1122.2 L1532.0,1123.2 L1538.0,1124.1 L1544.0,1125.1 L1550.0,1126.0 L1556.0,1127.0 L1562.0,1127.9 L1568.0,1128.8 L1574.0,1129.8 L1580.0,1130.7 L1586.0,1131.6 L1592.0,1132.5 L1598.0,1133.4 L1604.0,1134.4 L1610.0,1135.3 L1616.0,1136.2 L1622.0,1137.1 L1628.0,1138.0 L1634.0,1138.9 L1640.0,1139.8 L1646.0,1140.7 L1652.0,1141.6 L1658.0,1142.4 L1664.0,1143.3 L1670.0,1144.2 L1676.0,1145.1 L1682.0,1145.9 L1688.0,1146.8 L1694.0,1147.7 L1700.0,1148.5 L1706.0,1149.4 L1712.0,1150.3 L1718.0,1151.1 L1724.0,1152.0 L1730.0,1152.8 L1736.0,1153.7 L1742.0,1154.5 L1748.0,1155.4 L1754.0,1156.2 L1760.0,1157.1 L1764.0,1157.6" style="stroke-linecap:butt"/>
<text x="1006.5" y="1483.6" text-anchor="middle">Wavelength (nm)</text>
<text transform="translate(72.6,673.1) rotate(-90)" text-anchor="middle">Absorbance</text>
<line x1="1044" y1="74.2" x2="1199.5" y2="74.2" stroke="#ff0000" stroke-width="5.2" stroke-linecap="round"/>
<text x="1217" y="98.2" xml:space="preserve"><tspan dx="0.5">TiO</tspan><tspan font-size="47.5" dx="-2.5" dy="18.0">2</tspan></text>
<line x1="1044" y1="183.4" x2="1199.5" y2="183.4" stroke="#008000" stroke-width="5.2" stroke-linecap="round"/>
<text x="1217.5" y="207.4" xml:space="preserve">0.6 wt% <tspan dx="-4.75">Er</tspan><tspan font-size="47.5" dx="1" dy="-29.0">3+</tspan><tspan dx="0.5" dy="29.0">/</tspan><tspan dx="0.5">TiO</tspan><tspan font-size="47.5" dx="-2.5" dy="18.0">2</tspan></text>
<line x1="1044" y1="292.4" x2="1199.5" y2="292.4" stroke="#000080" stroke-width="5.2" stroke-linecap="round"/>
<text x="1217.5" y="317.0" xml:space="preserve">1.2  wt% <tspan dx="-4.75">Er</tspan><tspan font-size="47.5" dx="1" dy="-29.0">3+</tspan><tspan dx="0.5" dy="29.0">/</tspan><tspan dx="0.5">TiO</tspan><tspan font-size="47.5" dx="-2.5" dy="18.0">2</tspan></text>
<line x1="1044" y1="401.9" x2="1199.5" y2="401.9" stroke="#ff69b4" stroke-width="5.2" stroke-linecap="round"/>
<text x="1217.5" y="425.2" xml:space="preserve">1.8  wt% <tspan dx="-4.75">Er</tspan><tspan font-size="47.5" dx="1" dy="-29.0">3+</tspan><tspan dx="0.5" dy="29.0">/</tspan><tspan dx="0.5">TiO</tspan><tspan font-size="47.5" dx="-2.5" dy="18.0">2</tspan></text>
<line x1="1044" y1="511.0" x2="1199.5" y2="511.0" stroke="#000000" stroke-width="5.2" stroke-linecap="round"/>
<text x="1217.5" y="534.6" xml:space="preserve">2.4  wt% <tspan dx="-4.75">Er</tspan><tspan font-size="47.5" dx="1" dy="-29.0">3+</tspan><tspan dx="0.5" dy="29.0">/</tspan><tspan dx="0.5">TiO</tspan><tspan font-size="47.5" dx="-2.5" dy="18.0">2</tspan></text>
</svg>
</body></html>
